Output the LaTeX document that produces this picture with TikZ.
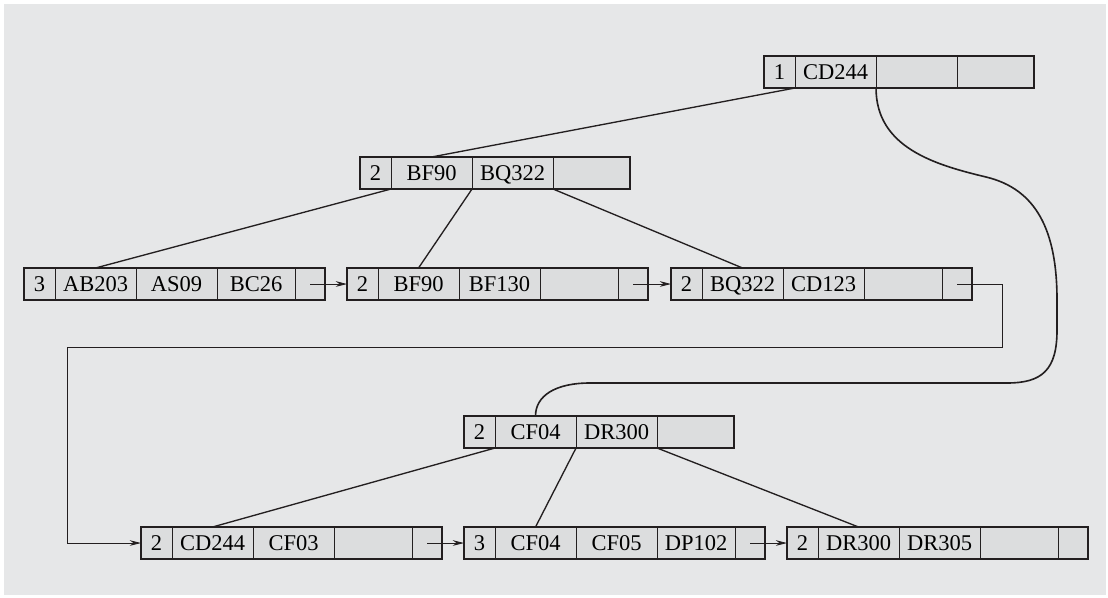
\documentclass[tikz,border=0pt]{standalone}
\usepackage{fontspec}
\setmainfont{Liberation Serif}
\usetikzlibrary{arrows.meta,positioning}
\definecolor{panel}{HTML}{E6E7E8}
\definecolor{cellfill}{HTML}{DCDDDE}
\definecolor{ink}{HTML}{231F20}

\begin{document}
\begin{tikzpicture}[
  x=0.025cm, y=-0.025cm,
  cell/.style={draw=ink, fill=cellfill, line width=0.55pt, minimum height=0.8cm,
               inner sep=0pt, outer sep=0pt, text height=10.6pt, text depth=0pt,
               font=\fontsize{16}{18}\selectfont},
  cnt/.style={cell, minimum width=0.775cm, anchor=north west},
  key/.style={cell, minimum width=2.025cm},
  lastkey/.style={cell, minimum width=1.95cm},
  ptr/.style={cell, minimum width=0.75cm},
  frame/.style={draw=ink, line width=1.2pt},
  tline/.style={draw=ink, line width=0.95pt},
  ar/.style={-{Stealth[length=2.8mm, width=1.4mm]}, draw=ink, line width=0.6pt}
]
  \fill[white] (0,0) rectangle (1108,597);
  \fill[panel] (4,4) rectangle (1106,595);
  \useasboundingbox (0,0) rectangle (1108,597);

  % inner nodes
  \foreach \nm/\px/\py/\cn/\ka/\kb in {root/764/56/1/CD244/{},
      bf/360/157/2/BF90/BQ322, cf/464/416/2/CF04/DR300} {
    \node[cnt] (\nm-0) at (\px,\py) {\cn};
    \node[key, right=0pt of \nm-0] (\nm-1) {\ka};
    \node[key, right=0pt of \nm-1] (\nm-2) {\kb};
    \node[lastkey, minimum width=1.925cm, right=0pt of \nm-2] (\nm-3) {};
    \draw[frame] (\nm-0.north west) rectangle (\nm-3.south east);
  }

  % leaves
  \foreach \nm/\px/\py/\cn/\ka/\kb/\kc in {leaf1/24/268/3/AB203/AS09/BC26,
      leaf2/347/268/2/BF90/BF130/{}, leaf3/671/268/2/BQ322/CD123/{},
      leaf4/141/527/2/CD244/CF03/{}, leaf5/464/527/3/CF04/CF05/DP102,
      leaf6/787/527/2/DR300/DR305/{}} {
    \node[cnt] (\nm-0) at (\px,\py) {\cn};
    \node[key, right=0pt of \nm-0] (\nm-1) {\ka};
    \node[key, right=0pt of \nm-1] (\nm-2) {\kb};
    \node[lastkey, right=0pt of \nm-2] (\nm-3) {\kc};
    \node[ptr, right=0pt of \nm-3] (\nm-4) {};
    \draw[frame] (\nm-0.north west) rectangle (\nm-4.south east);
  }

  \draw[tline] (root-0.south east) -- (bf-1.north);
  \draw[tline] (bf-0.south east) -- (leaf1-1.north);
  \draw[tline] (bf-1.south east) -- (leaf2-1.north);
  \draw[tline] (bf-2.south east) -- (leaf3-1.north);
  \draw[tline] (cf-0.south east) -- (leaf4-1.north);
  \draw[tline] (cf-1.south east) -- (leaf5-1.north);
  \draw[tline] (cf-2.south east) -- (leaf6-1.north);

  \draw[tline, line width=1.15pt] (root-1.south east)
    .. controls +(0,60) and +(-50,-12) .. (986,177)
    .. controls +(50,12) and +(0,-70) .. (1057,300) -- (1057,330)
    .. controls +(0,40) and +(35,0) .. (1007,383) -- (590,383)
    .. controls +(-35,0) and +(0,-20) .. (cf-1.north);

  \draw[ar] (leaf1-4.center) -- (leaf2-0.west);
  \draw[ar] (leaf2-4.center) -- (leaf3-0.west);
  \draw[ar] (leaf4-4.center) -- (leaf5-0.west);
  \draw[ar] (leaf5-4.center) -- (leaf6-0.west);
  \draw[ar] (leaf3-4.center) -- ++(45,0) |- (67,347) |- (leaf4-0.west);
\end{tikzpicture}
\end{document}
